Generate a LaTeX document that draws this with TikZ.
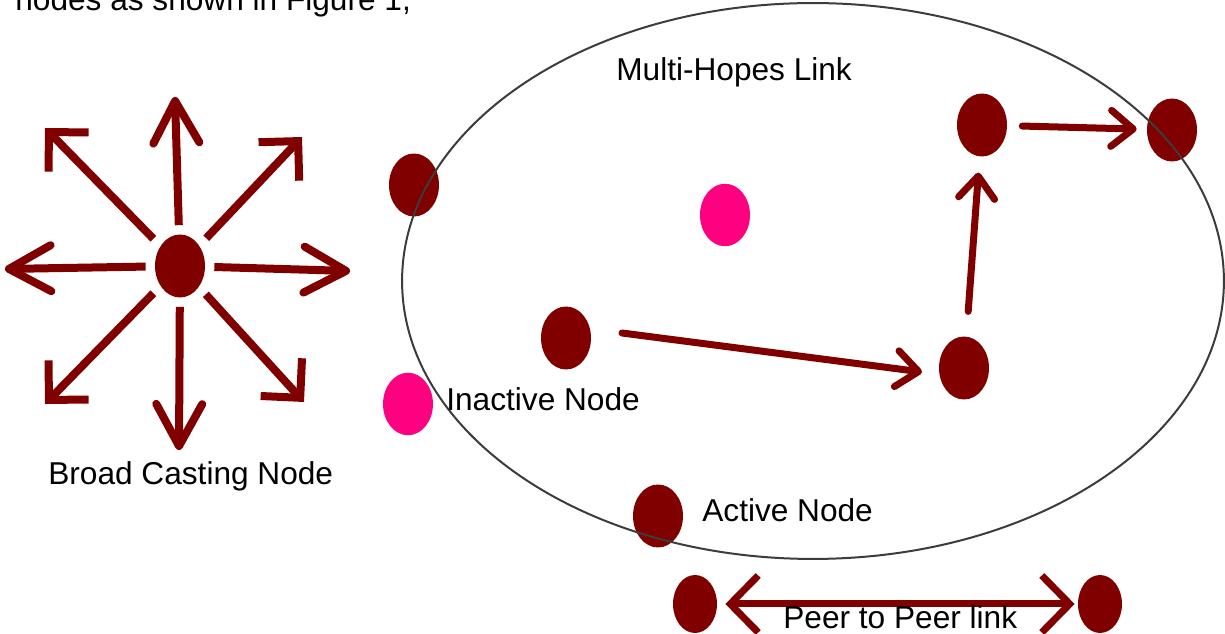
\documentclass[tikz,border=0pt]{standalone}
\usepackage{fontspec}
\setmainfont{Liberation Sans}
\usetikzlibrary{shapes.geometric,arrows.meta}
\definecolor{dred}{RGB}{128,0,0}
\definecolor{pinkn}{RGB}{255,0,128}
\definecolor{ringc}{RGB}{60,60,60}
\begin{document}
\begin{tikzpicture}[x=0.02cm,y=-0.02cm,
  dn/.style={ellipse, fill=dred, draw=none, inner sep=0pt, minimum width=1cm, minimum height=1.26cm},
  pn/.style={ellipse, fill=pinkn, draw=none, inner sep=0pt, minimum width=1cm, minimum height=1.25cm},
  ring/.style={ellipse, draw=ringc, line width=0.04cm, inner sep=0pt, minimum width=16.44cm, minimum height=11.12cm},
  lbl/.style={inner sep=0pt, font=\fontsize{18}{21}\selectfont, text=black},
  bcv/.style={dred, line width=0.16cm, shorten <=0.18cm, -{Straight Barb[length=0.84cm,width=0.92cm,round]}},
  bcd/.style={dred, line width=0.16cm, shorten <=0.2cm, -{Straight Barb[length=0.56cm,width=1.12cm,sharp]}},
  hop/.style={dred, line width=0.14cm, line cap=round, -{Straight Barb[length=0.44cm,width=0.72cm,round]}},
  peer/.style={dred, line width=0.14cm, {Straight Barb[length=0.56cm,width=1.14cm,sharp]}-{Straight Barb[length=0.56cm,width=1.14cm,sharp]}}
]
\useasboundingbox (0,0) rectangle (1225,634);
\fill[white] (0,0) rectangle (1225,634);

% partially visible heading text
\node[lbl, anchor=base west] (top) at (15,11) {nodes as shown in Figure 1,};

% broadcasting node
\node[dn] (b) at (180,266) {};
\coordinate (bu) at (175,97);
\coordinate (bul) at (45,128);
\coordinate (bur) at (302,137);
\coordinate (bl) at (5,269);
\coordinate (br) at (350,271);
\coordinate (bdl) at (45,404);
\coordinate (bd) at (179,450);
\coordinate (bdr) at (304,402);
\draw[bcv] (b) -- (bu);
\draw[bcv] (b) -- (bl);
\draw[bcv] (b) -- (br);
\draw[bcv] (b) -- (bd);
\draw[bcd] (b) -- (bul);
\draw[bcd] (b) -- (bur);
\draw[bcd] (b) -- (bdl);
\draw[bcd] (b) -- (bdr);
\node[lbl, anchor=base west] (tb) at (48,485) {Broad Casting Node};

% nodes around / inside the region
\node[dn] (na) at (414,185) {};
\node[pn] (pa) at (725,215) {};
\node[dn] (n2) at (566,338) {};
\node[dn] (n4) at (964,368) {};
\node[dn] (n3) at (982,125) {};
\node[dn] (n5) at (1172,130) {};
\node[pn] (pb) at (408,404) {};
\node[dn] (n6) at (658,516) {};

% region outline
\node[ring] (zone) at (813,281) {};

% multi-hop path
\coordinate (m1s) at (622,333);
\coordinate (m1e) at (922,372);
\draw[hop] (m1s) -- (m1e);
\draw[hop, shorten <=0.5cm, shorten >=0.32cm] (n4) -- (n3);
\draw[hop, shorten <=0.3cm, shorten >=0.2cm] (n3) -- (n5);

% labels
\node[lbl, anchor=base west] (tm) at (616,81) {Multi-Hopes Link};
\node[lbl, anchor=base west] (ti) at (446,411) {Inactive Node};
\node[lbl, anchor=base west] (ta) at (702,522) {Active Node};

% peer to peer link
\node[dn, minimum width=0.88cm, minimum height=1.16cm] (p1) at (695,604) {};
\node[dn, minimum width=0.88cm, minimum height=1.16cm] (p2) at (1100,604) {};
\draw[peer, shorten <=0.16cm, shorten >=0.06cm] (p1) -- (p2);
\node[lbl, anchor=base west] (tp) at (783,629) {Peer to Peer link};
\end{tikzpicture}
\end{document}
